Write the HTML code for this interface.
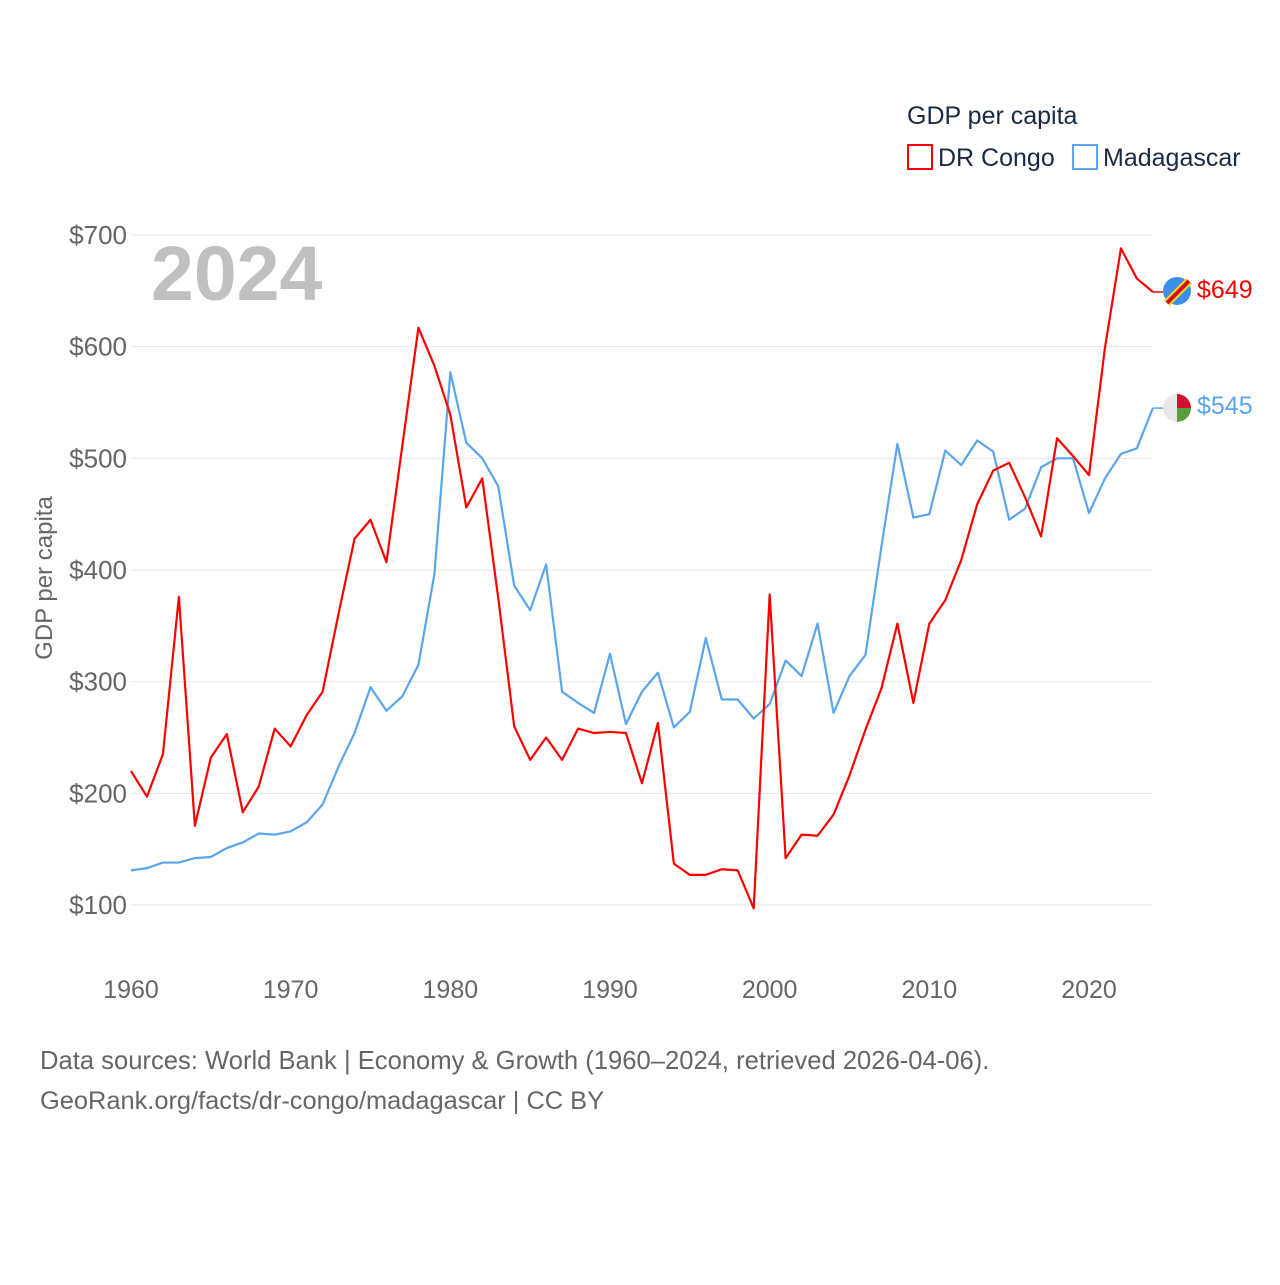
<!DOCTYPE html>
<html><head><meta charset="utf-8"><style>
body{margin:0;background:#fff;font-family:"Liberation Sans",sans-serif}
svg text{font-family:"Liberation Sans",sans-serif}
</style></head><body>
<svg id="chart" width="1280" height="1280" viewBox="0 0 1280 1280">
<g id="grid"></g>
<g id="yticks"></g>
<g id="xticks"></g>
<text x="151" y="300" font-size="77" font-weight="bold" fill="#c0c0c0">2024</text>
<text x="52" y="578" font-size="24" fill="#666" transform="rotate(-90 52 578)" text-anchor="middle">GDP per capita</text>
<text x="907" y="124" font-size="25" fill="#1a2a44">GDP per capita</text>
<g><rect x="908" y="145" width="24" height="24" fill="none" stroke="#f00" stroke-width="2"/><text x="938" y="166" font-size="25" fill="#1a2a44">DR Congo</text></g>
<g><rect x="1073" y="145" width="24" height="24" fill="none" stroke="#5aa5ec" stroke-width="2"/><text x="1103" y="166" font-size="25" fill="#1a2a44">Madagascar</text></g>
<g id="series"></g>
<g><circle cx="1177" cy="291" r="14" fill="#3b8fe8"/><line x1="1167" y1="303" x2="1189" y2="281" stroke="#f7d618" stroke-width="8"/><line x1="1167" y1="303" x2="1189" y2="281" stroke="#ce1021" stroke-width="4"/></g>
<g><circle cx="1177" cy="408" r="14" fill="#e8e8e8"/><path d="M1177 394 A14 14 0 0 1 1191 408 L1177 408Z" fill="#d01030"/><path d="M1177 408 L1191 408 A14 14 0 0 1 1177 422Z" fill="#5a9e3a"/></g>
<text x="1197" y="298" font-size="25" fill="#f00">$649</text>
<text x="1197" y="414" font-size="25" fill="#5aa5ec">$545</text>
<text x="40" y="1069" font-size="25.6" fill="#666">Data sources: World Bank | Economy &amp; Growth (1960–2024, retrieved 2026-04-06).</text>
<text x="40" y="1109" font-size="25.4" fill="#666">GeoRank.org/facts/dr-congo/madagascar | CC BY</text>
</svg>
<script>
const years=[];for(let y=1960;y<=2024;y++)years.push(y);
const congo=[220,197,235,376,171,232,253,183,206,258,242,270,291,361,428,445,407,512,617,583,539,456,482,375,260,230,250,230,258,254,255,254,209,263,137,127,127,132,131,97,378,142,163,162,181,216,257,294,352,281,352,373,409,459,489,496,465,430,518,502,485,599,688,661,649];
const madagascar=[131,133,138,138,142,143,151,156,164,163,166,174,190,224,254,295,274,287,315,396,577,514,500,475,386,364,405,291,281,272,325,262,291,308,259,273,339,284,284,267,280,319,305,352,272,305,324,421,513,447,450,507,494,516,506,445,455,492,500,500,451,482,504,509,545];
const yTicks=[100,200,300,400,500,600,700];
const xTicks=[1960,1970,1980,1990,2000,2010,2020];
const NS="http://www.w3.org/2000/svg";
const X=y=>131+(y-1960)*(958/60);
const Y=v=>905-(v-100)*(670/600);
const grid=document.getElementById('grid'),yt=document.getElementById('yticks'),xt=document.getElementById('xticks'),ser=document.getElementById('series');
yTicks.forEach(v=>{
 const l=document.createElementNS(NS,'line');
 l.setAttribute('x1',131);l.setAttribute('x2',1152);l.setAttribute('y1',Y(v));l.setAttribute('y2',Y(v));
 l.setAttribute('stroke','#e6e6e6');l.setAttribute('stroke-width','1');
 
 
 grid.appendChild(l);
 const t=document.createElementNS(NS,'text');
 t.setAttribute('x',127);t.setAttribute('y',Y(v)+9);t.setAttribute('text-anchor','end');
 t.setAttribute('font-size','26');t.setAttribute('fill','#666');t.textContent='$'+v;
 
 
 yt.appendChild(t);
});
xTicks.forEach(v=>{
 const t=document.createElementNS(NS,'text');
 t.setAttribute('x',X(v));t.setAttribute('y',998);t.setAttribute('text-anchor','middle');
 t.setAttribute('font-size','25');t.setAttribute('fill','#666');t.textContent=v;
 
 
 xt.appendChild(t);
});
function line(data,color,name){
 const p=document.createElementNS(NS,'polyline');
 p.setAttribute('points',data.map((v,i)=>X(years[i])+','+Y(v)).join(' '));
 p.setAttribute('fill','none');p.setAttribute('stroke',color);p.setAttribute('stroke-width','2.2');p.setAttribute('stroke-linejoin','round');
 
 
 ser.appendChild(p);
 const last=data[data.length-1];
 const c=document.createElementNS(NS,'line');
 c.setAttribute('x1',X(2024));c.setAttribute('x2',1163);c.setAttribute('y1',Y(last));c.setAttribute('y2',Y(last));
 c.setAttribute('stroke',color);c.setAttribute('stroke-width','1.5');
 
 
 ser.appendChild(c);
}
line(madagascar,'#5aa5ec','line-madagascar');
line(congo,'#f00','line-dr-congo');
</script>
</body></html>
